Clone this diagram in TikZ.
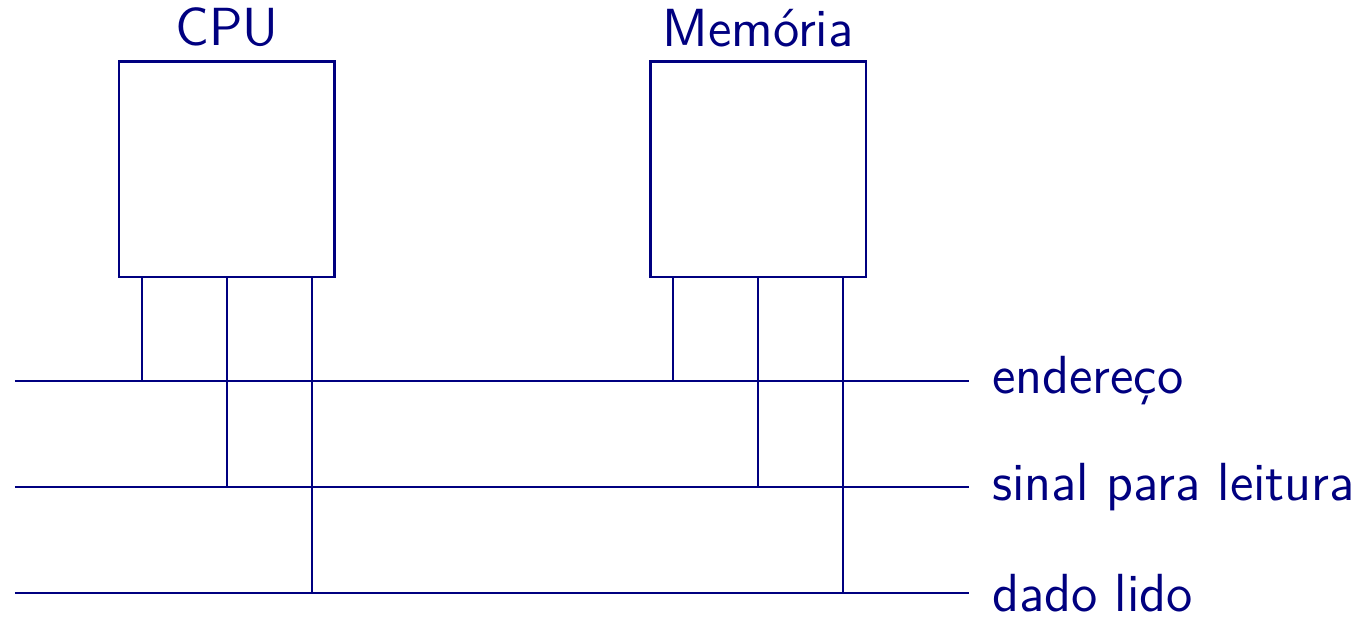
\documentclass[tikz,border=0pt]{standalone}
\usepackage{tikz}
\usetikzlibrary{positioning}
\definecolor{azulbarra}{RGB}{0,0,128}

\begin{document}
\begin{tikzpicture}[x=1cm,y=1cm,font=\sffamily\Large,color=azulbarra,semithick]
    \useasboundingbox (-0.14,-0.226) rectangle (12.64,5.594);
    \tikzset{unidade/.style={draw,minimum width=2.03cm,minimum height=2.03cm,inner sep=0pt}}

    % barramentos
    \foreach \nome/\y/\texto in {end/2/endereço,sin/1/sinal para leitura,dad/0/dado lido}{
        \coordinate (\nome-e) at (0,\y);
        \coordinate (\nome-d) at (9,\y);
        \draw (\nome-e) -- (\nome-d) node[right=0.09cm] (\nome-rot) {\texto};
    }

    \node[unidade] (cpu) at (2,4) {};
    \node[unidade] (mem) at (7.01,4) {};
    \node[above=0pt of cpu] (cpu-rot) {CPU};
    \node[above=0pt of mem] (mem-rot) {Memória};

    % ligacoes das unidades aos barramentos
    \foreach \u in {cpu,mem}{
        \coordinate (\u-a) at ([xshift=-8mm]\u.south);
        \coordinate (\u-b) at (\u.south);
        \coordinate (\u-c) at ([xshift=8mm]\u.south);
        \draw (\u-a) -- (\u-a |- end-e);
        \draw (\u-b) -- (\u-b |- sin-e);
        \draw (\u-c) -- (\u-c |- dad-e);
    }
\end{tikzpicture}
\end{document}
